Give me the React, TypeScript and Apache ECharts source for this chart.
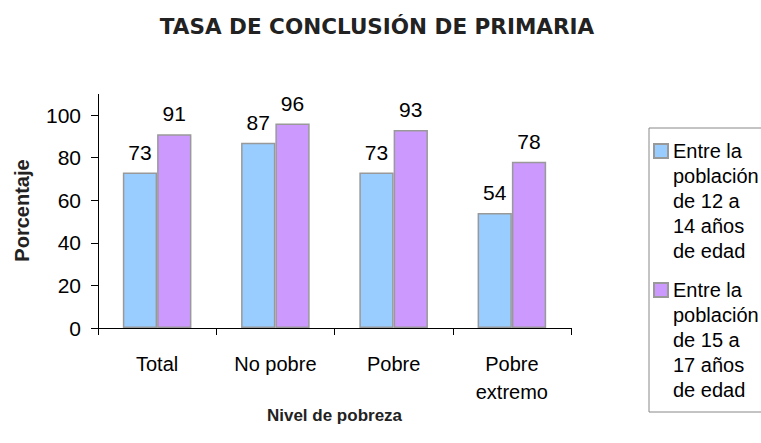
import React, { useEffect, useRef } from "react";
import * as echarts from "echarts";

const categories = ["Total", "No pobre", "Pobre", "Pobre\nextremo"];
const serie12a14 = [73, 87, 73, 54];
const serie15a17 = [91, 96, 93, 78];
const seriesNames = [
  "Entre la población de 12 a 14 años de edad",
  "Entre la población de 15 a 17 años de edad",
];
const legendLines = [
  ["Entre la", "población", "de 12 a", "14 años", "de edad"],
  ["Entre la", "población", "de 15 a", "17 años", "de edad"],
];
const yTicks = { min: 0, max: 100, interval: 20 };

const FONT = "'Liberation Sans', Arial, sans-serif";
const TITLE_FONT = "'DejaVu Sans', sans-serif";

export default function App() {
  const ref = useRef<HTMLDivElement>(null);
  useEffect(() => {
    if (!ref.current) return;
    const chart = echarts.init(ref.current, undefined, { renderer: "svg" });
    const colors = ["#99CCFF", "#CC99FF"];
    chart.setOption({
      animation: false,
      backgroundColor: "#ffffff",
      textStyle: { fontFamily: FONT },
      title: {
        text: "TASA DE CONCLUSIÓN DE PRIMARIA",
        left: 372,
        textAlign: "center",
        top: 10,
        textStyle: { fontFamily: TITLE_FONT, fontSize: 21.5, fontWeight: "bold", color: "#222" },
      },
      grid: { left: 98, right: 190, top: 115, bottom: 115, containLabel: false },
      legend: {
        orient: "vertical",
        left: 649,
        top: 128,
        padding: [13, 30, 12, 1],
        borderColor: "#888",
        borderWidth: 1,
        icon: "none",
        itemWidth: 0,
        itemGap: 19,
        data: seriesNames,
        selectedMode: false,
        formatter: (name: string) => {
          const idx = seriesNames.indexOf(name);
          const lines = legendLines[idx];
          const box = idx === 0 ? "b0" : "b1";
          return lines
            .map((l, i) => (i === 0 ? `{${box}|}{g|}{t|${l}}` : `{sp|}{t|${l}}`))
            .join("\n");
        },
        textStyle: {
          fontFamily: FONT,
          fontSize: 20,
          color: "#000",
          rich: {
            t: { fontFamily: FONT, fontSize: 20, lineHeight: 25, color: "#000" },
            b0: { width: 12, height: 12, backgroundColor: colors[0], borderColor: "#999", borderWidth: 2 },
            b1: { width: 12, height: 12, backgroundColor: colors[1], borderColor: "#999", borderWidth: 2 },
            g: { width: 6, height: 12 },
            sp: { width: 18, height: 12 },
          },
        },
      },
      xAxis: {
        type: "category",
        data: categories,
        name: "Nivel de pobreza",
        nameLocation: "middle",
        nameGap: 75,
        nameTextStyle: { fontFamily: FONT, fontSize: 17, fontWeight: "bold", color: "#222", verticalAlign: "middle" },
        axisLine: { lineStyle: { color: "#000", width: 1 } },
        axisTick: { show: true, length: 7, inside: false, alignWithLabel: false, lineStyle: { color: "#000" } },
        axisLabel: { fontFamily: FONT, fontSize: 20, color: "#000", margin: 22, lineHeight: 28 },
      },
      yAxis: {
        type: "value",
        min: yTicks.min,
        max: yTicks.max,
        interval: yTicks.interval,
        name: "Porcentaje",
        nameLocation: "middle",
        nameGap: 66,
        nameTextStyle: { fontFamily: FONT, fontSize: 20, fontWeight: "bold", color: "#222", padding: [0, 0, 0, 22] },
        axisLine: { show: true, lineStyle: { color: "#000", width: 1 } },
        axisTick: { show: true, length: 7, lineStyle: { color: "#000" } },
        splitLine: { show: false },
        axisLabel: { fontFamily: FONT, fontSize: 21, color: "#000", margin: 17 },
      },
      graphic: [
        { type: "line", shape: { x1: 98.5, y1: 94, x2: 98.5, y2: 115 }, style: { stroke: "#000", lineWidth: 1 } },
      ],
      series: [
        {
          name: seriesNames[0],
          type: "bar",
          data: serie12a14,
          barGap: "0%",
          barCategoryGap: "42%",
          itemStyle: { color: colors[0], borderColor: "#999", borderWidth: 1.5 },
          label: { show: true, position: "top", distance: 10, fontFamily: FONT, fontSize: 21, color: "#000" },
        },
        {
          name: seriesNames[1],
          type: "bar",
          data: serie15a17,
          barGap: "0%",
          barCategoryGap: "42%",
          itemStyle: { color: colors[1], borderColor: "#999", borderWidth: 1.5 },
          label: { show: true, position: "top", distance: 10, fontFamily: FONT, fontSize: 21, color: "#000" },
        },
      ],
    });
    return () => chart.dispose();
  }, []);
  return (
    <div
      ref={ref}
      style={{ position: "fixed", left: 0, top: 0, width: 761, height: 443, background: "#fff" }}
    />
  );
}
